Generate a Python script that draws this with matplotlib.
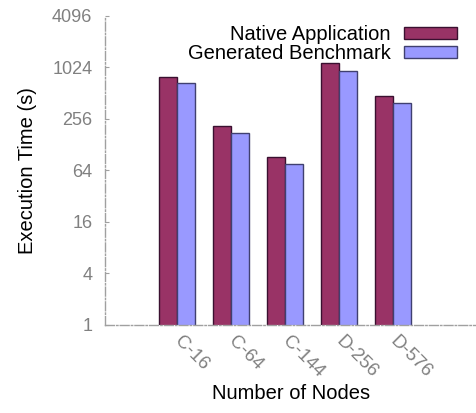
import numpy as np
import matplotlib
matplotlib.use("Agg")
import matplotlib.pyplot as plt
from matplotlib.ticker import FixedLocator, FixedFormatter, NullLocator

# execution times in seconds per problem class / node count
nodes = ["C-16", "C-64", "C-144", "D-256", "D-576"]
native_app = [800, 210, 93, 1155, 478]
generated_bench = [676, 176, 76, 931, 389]

y_ticks = [1, 4, 16, 64, 256, 1024, 4096]

plt.rcParams['font.family'] = ['Liberation Sans', 'DejaVu Sans']
plt.rcParams['font.size'] = 14.5

fig = plt.figure(figsize=(4.77, 4.13), dpi=100)
ax = fig.add_axes([0.2201, 0.2131, 0.7799, 0.7482])

x = np.arange(len(nodes))
w = 1 / 3
ax.bar(x - w / 2, native_app, width=w, color='#993366', edgecolor='#3a1030',
       linewidth=1, label='Native Application')
ax.bar(x + w / 2, generated_bench, width=w, color='#9999ff', edgecolor='#404070',
       linewidth=1, label='Generated Benchmark')

ax.set_yscale('log', base=2)
ax.set_ylim(1, 4096)
ax.set_xlim(-1.333, 5.556)
ax.yaxis.set_major_locator(FixedLocator(y_ticks))
ax.yaxis.set_major_formatter(FixedFormatter([str(t) for t in y_ticks]))
ax.yaxis.set_minor_locator(NullLocator())

ax.set_xticks(x)
ax.set_xticklabels(nodes, rotation=-45, ha='left', va='center',
                   rotation_mode='anchor', color='#808080')
ax.tick_params(axis='x', length=0, pad=10, labelsize=13.5)
ax.tick_params(axis='y', direction='in', length=3, color='#a0a0a0',
               labelcolor='#808080', pad=9, labelsize=13)

for side in ['top', 'right']:
    ax.spines[side].set_visible(False)
for side in ['left', 'bottom']:
    ax.spines[side].set_linestyle('-.')
    ax.spines[side].set_color('#a0a0a0')
    ax.spines[side].set_linewidth(1)

ax.set_ylabel('Execution Time (s)', labelpad=11)
ax.set_xlabel('Number of Nodes', labelpad=2)

ax.legend(loc='upper right', bbox_to_anchor=(467 / 477, 398 / 413),
          bbox_transform=fig.transFigure, frameon=False,
          markerfirst=False, handlelength=2.64, handleheight=0.5,
          labelspacing=0.0, handletextpad=0.65, borderpad=0)

fig.savefig('out.png', dpi=100)
